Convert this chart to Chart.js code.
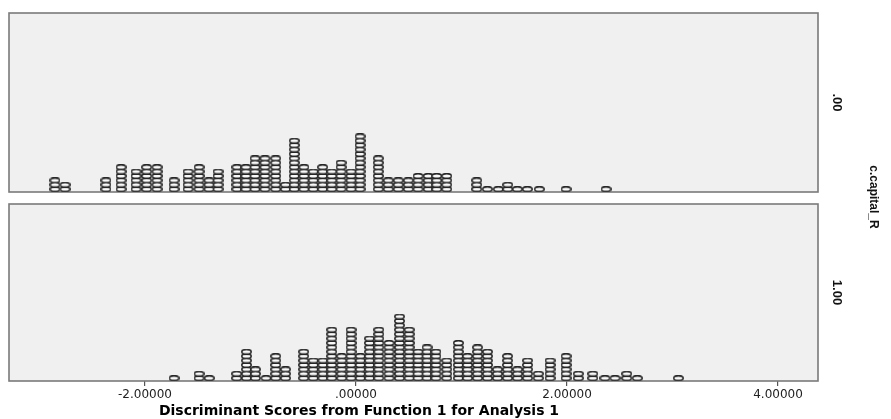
<!DOCTYPE html>
<html>
<head>
<meta charset="utf-8">
<script src="https://cdn.jsdelivr.net/npm/chart.js@4"></script>
<style>
  html, body { margin: 0; padding: 0; background: #ffffff; }
  #wrap { width: 891px; height: 419px; }
</style>
</head>
<body>
<div id="wrap"><canvas id="c" width="891" height="419"></canvas></div>
<script>
// ---- data (bin centres of the discriminant scores and number of cases per bin) ----
const topValues = [-2.853,-2.758,-2.370,-2.227,-2.085,-1.984,-1.886,-1.725,-1.592,-1.488,-1.393,-1.308,-1.128,-1.043,-0.957,-0.863,-0.761,-0.668,-0.585,-0.493,-0.405,-0.316,-0.230,-0.142,-0.047,0.038,0.211,0.306,0.401,0.496,0.588,0.685,0.765,0.860,1.144,1.245,1.349,1.438,1.529,1.624,1.737,1.991,2.370];
const topCounts = [3,2,3,6,5,6,6,3,5,6,3,5,6,6,8,8,8,2,12,6,5,6,5,7,5,13,8,3,3,3,4,4,4,4,3,1,1,2,1,1,1,1,1];
const botValues = [-1.725,-1.488,-1.391,-1.131,-1.038,-0.953,-0.853,-0.761,-0.668,-0.496,-0.405,-0.313,-0.230,-0.136,-0.047,0.041,0.128,0.216,0.313,0.412,0.504,0.588,0.673,0.758,0.860,0.970,1.057,1.152,1.246,1.341,1.436,1.531,1.626,1.728,1.839,1.991,2.107,2.244,2.360,2.455,2.566,2.666,3.055];
const botCounts = [1,2,1,2,7,3,1,6,3,7,5,5,12,6,12,6,10,12,9,15,12,7,8,7,5,9,6,8,7,3,6,3,5,2,5,6,2,2,1,1,2,1,1];
const tickValues = [-2, 0, 2, 4];
const tickLabels = ['-2.00000', '.00000', '2.00000', '4.00000'];
const panelLabels = ['.00', '1.00'];
const groupLabel = 'c.capital_R';
const xTitle = 'Discriminant Scores from Function 1 for Analysis 1';

// ---- dot glyph (hollow oval) ----
function makeDot() {
  const c = document.createElement('canvas');
  c.width = 11; c.height = 6;
  const g = c.getContext('2d');
  g.beginPath();
  g.ellipse(5.5, 3, 4.7, 2.35, 0, 0, Math.PI * 2);
  g.fillStyle = '#f8f8f8';
  g.fill();
  g.lineWidth = 1.5;
  g.strokeStyle = '#262626';
  g.stroke();
  return c;
}
const dot = makeDot();

function stackPoints(values, counts) {
  const pts = [];
  values.forEach((v, i) => {
    for (let k = 0; k < counts[i]; k++) pts.push({ x: v, y: k + 0.65 });
  });
  return pts;
}

const panelPlugin = {
  id: 'panels',
  beforeDatasetsDraw(chart) {
    const { ctx, chartArea } = chart;
    ['yTop', 'yBot'].forEach(id => {
      const s = chart.scales[id];
      ctx.save();
      ctx.fillStyle = '#f0f0f0';
      ctx.fillRect(chartArea.left, s.top, chartArea.right - chartArea.left, s.bottom - s.top);
      ctx.lineWidth = 1.6;
      ctx.strokeStyle = '#7a7a7a';
      ctx.strokeRect(chartArea.left, s.top, chartArea.right - chartArea.left, s.bottom - s.top);
      ctx.restore();
    });
  },
  afterDraw(chart) {
    const { ctx } = chart;
    const x = chart.scales.x;
    ctx.save();
    ctx.font = 'bold 14px "DejaVu Sans"';
    ctx.fillStyle = '#000000';
    ctx.textAlign = 'center';
    ctx.textBaseline = 'middle';
    ctx.fillText(xTitle, x.getPixelForValue(0) + 3, 411);
    ctx.restore();
  }
};

const rightTitle = (text, size, pad) => ({
  display: true,
  text: text,
  color: '#111111',
  font: { family: 'Liberation Sans', size: size, weight: 'bold' },
  padding: { top: pad, bottom: 0 }
});

new Chart(document.getElementById('c'), {
  type: 'scatter',
  data: {
    datasets: [
      { data: stackPoints(topValues, topCounts), yAxisID: 'yTop', xAxisID: 'x',
        pointStyle: dot, pointRadius: 4, pointHoverRadius: 4 },
      { data: stackPoints(botValues, botCounts), yAxisID: 'yBot', xAxisID: 'x',
        pointStyle: dot, pointRadius: 4, pointHoverRadius: 4 }
    ]
  },
  options: {
    responsive: false,
    animation: false,
    devicePixelRatio: 1,
    layout: { padding: { left: 9, top: 13, right: 0, bottom: 0 } },
    plugins: { legend: { display: false }, tooltip: { enabled: false } },
    scales: {
      x: {
        type: 'linear', position: 'bottom',
        min: -3.289, max: 4.379,
        afterBuildTicks: s => { s.ticks = tickValues.map(v => ({ value: v })); },
        afterFit: s => { s.height = 38; },
        border: { display: false },
        grid: { drawOnChartArea: false, drawTicks: true, tickLength: 5, color: '#555555', lineWidth: 1.2 },
        ticks: {
          autoSkip: false, maxRotation: 0, padding: 2, color: '#222222',
          font: { family: 'DejaVu Sans', size: 12 },
          callback: (v, i) => tickLabels[i]
        }
      },
      yTop: {
        type: 'linear', position: 'right', stack: 'p', stackWeight: 179,
        min: 0, max: 40.68,
        afterFit: s => { s.width = 35; },
        border: { display: false }, grid: { display: false }, ticks: { display: false },
        title: rightTitle(panelLabels[0], 13, 9)
      },
      yGap: {
        type: 'linear', position: 'right', stack: 'p', stackWeight: 12,
        min: 0, max: 1,
        afterFit: s => { s.width = 35; },
        border: { display: false }, grid: { display: false }, ticks: { display: false }
      },
      yBot: {
        type: 'linear', position: 'right', stack: 'p', stackWeight: 177,
        min: 0, max: 40.23,
        afterFit: s => { s.width = 35; },
        border: { display: false }, grid: { display: false }, ticks: { display: false },
        title: rightTitle(panelLabels[1], 13, 9)
      },
      yLbl: {
        type: 'linear', position: 'right', weight: 1,
        min: 0, max: 1,
        afterFit: s => { s.width = 38; },
        border: { display: false }, grid: { display: false }, ticks: { display: false },
        title: rightTitle(groupLabel, 12, 10)
      }
    }
  },
  plugins: [panelPlugin]
});
</script>
</body>
</html>
